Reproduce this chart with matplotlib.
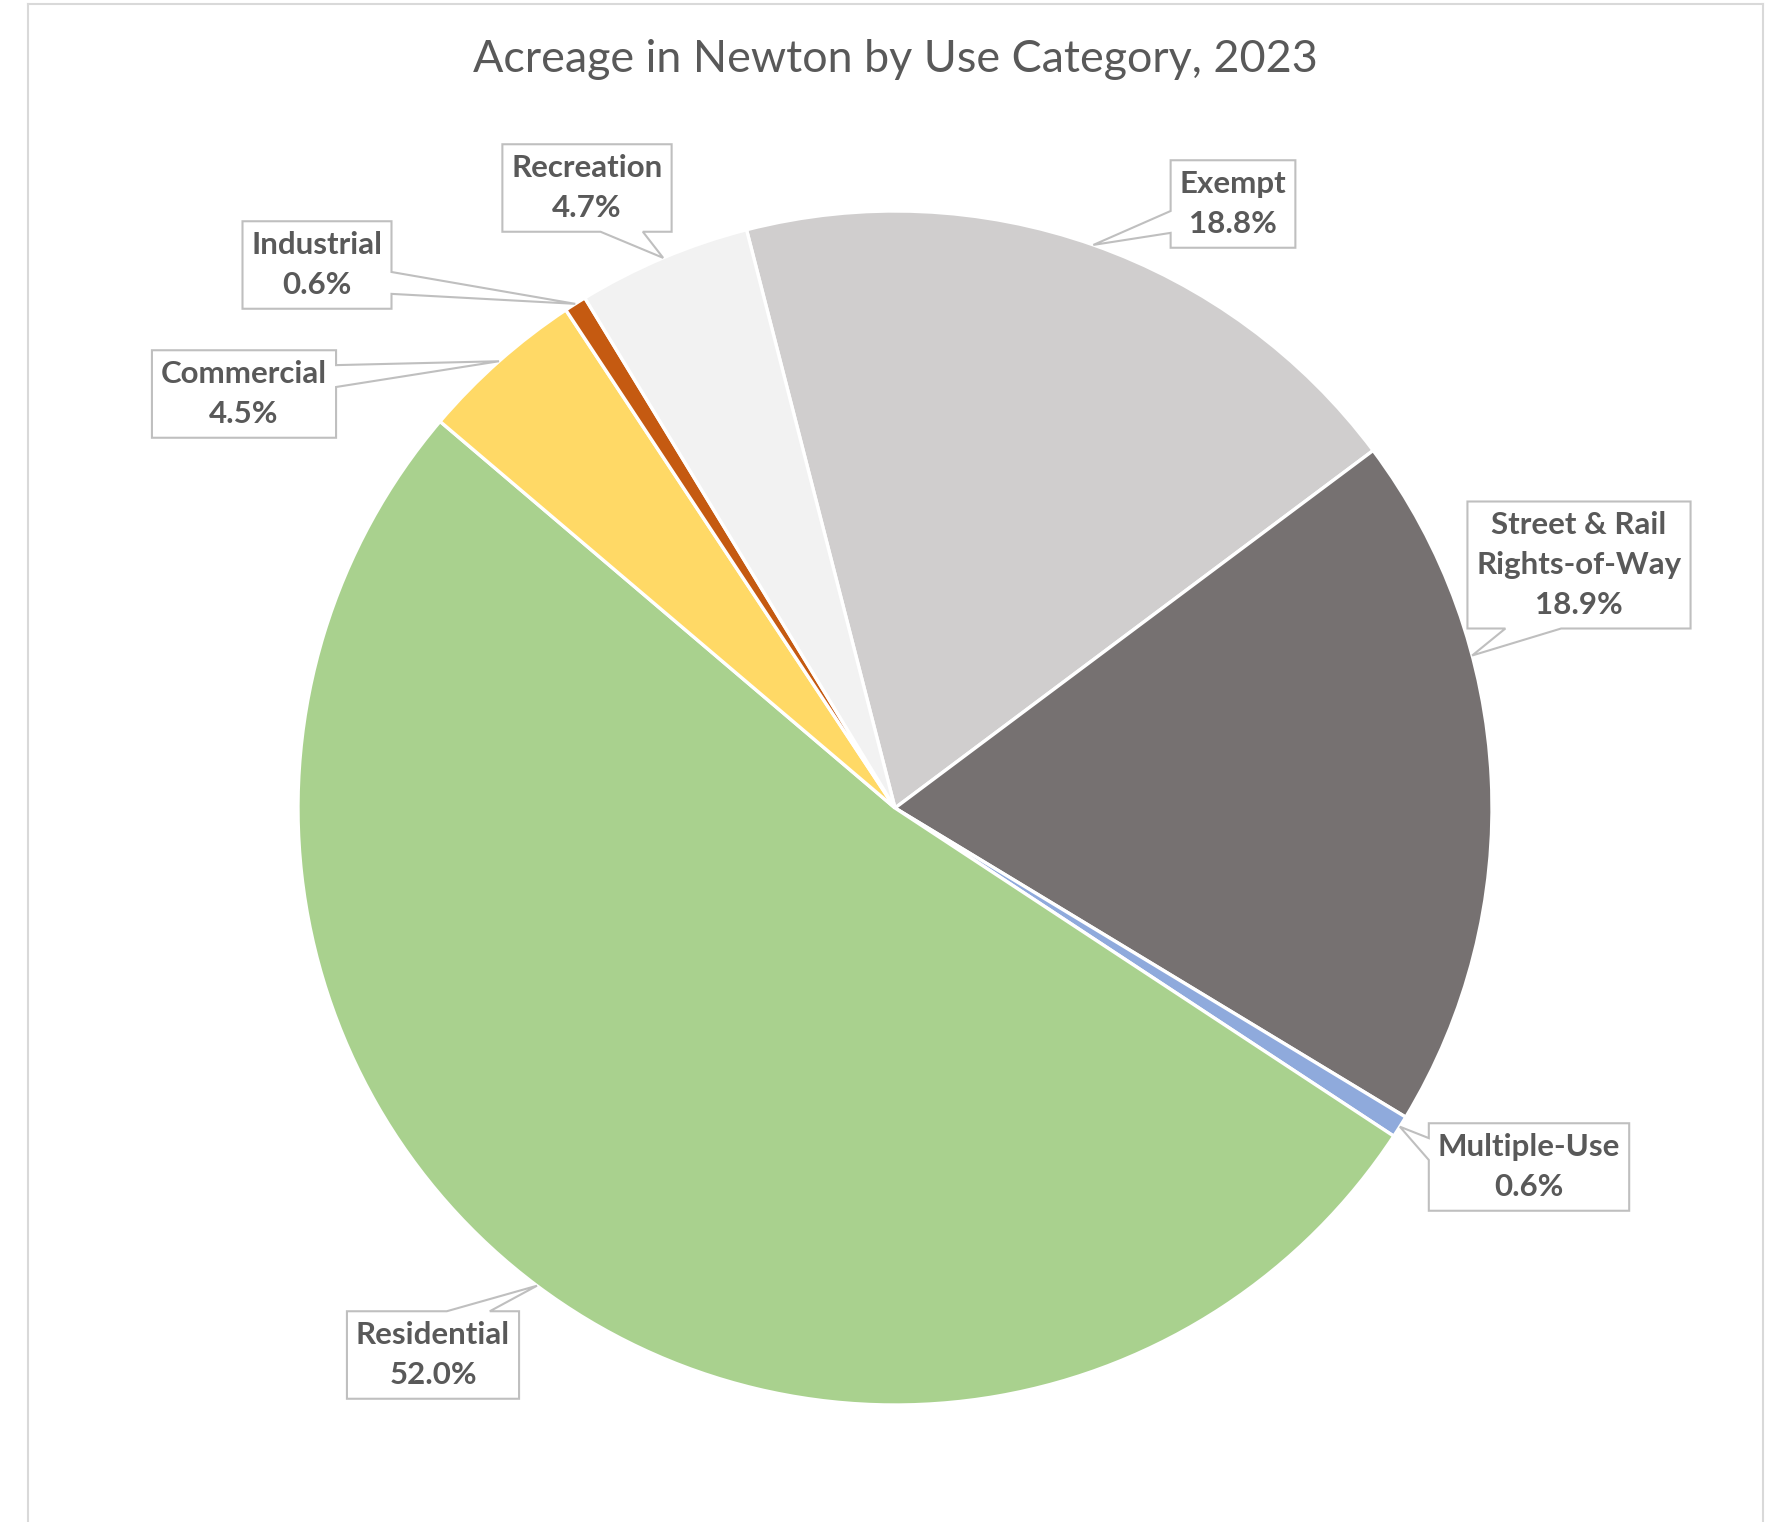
import numpy as np
import matplotlib

matplotlib.use("Agg")
import matplotlib.pyplot as plt
from matplotlib.patches import Polygon
from matplotlib.lines import Line2D
from matplotlib.transforms import IdentityTransform

# data, clockwise from the top-left edge of "Exempt"
categories = ["Exempt", "Street & Rail\nRights-of-Way", "Multiple-Use",
              "Residential", "Commercial", "Industrial", "Recreation"]
shares = [18.8, 18.9, 0.6, 52.0, 4.5, 0.6, 4.7]
colours = ["#D0CECE", "#767171", "#8FAADC", "#A9D18E",
           "#FFD966", "#C55A11", "#F2F2F2"]
title = "Acreage in Newton by Use Category, 2023"

W, H = 1775, 1522
CX, CY, R = 895, 808, 597  # pie centre and radius in px (from top-left)
TEXT = "#595959"
LINE = "#BFBFBF"
FONT = ["Lato", "DejaVu Sans"]

# label box centres, px from top-left
label_xy = [(1233, 204), (1579, 565), (1529, 1167), (433, 1355),
            (244, 394), (317, 265), (587, 188)]
tip_shift = [0, 12, 0, 0, 0, 0, 0]  # degrees, where Excel moved the leader

fig = plt.figure(figsize=(W / 100, H / 100), dpi=100)
ax = fig.add_axes([(CX - R) / W, (H - CY - R) / H, 2 * R / W, 2 * R / H])
wedges, _ = ax.pie(shares, colors=colours, startangle=104.4, counterclock=False,
                   radius=1, wedgeprops={"edgecolor": "white", "linewidth": 2.4})
ax.set_xlim(-1, 1)
ax.set_ylim(-1, 1)
ax.set_aspect("equal")
ax.axis("off")

fig.text(CX / W, 1 - 59 / H, title, ha="center", va="center",
         fontsize=32.3, color=TEXT, family=FONT)

# chart-area frame (bottom edge is cut off in the source)
for xs, ys in [([28, 28], [0, H - 4]), ([28, 1763], [H - 4, H - 4]),
               ([1763, 1763], [0, H - 4])]:
    fig.add_artist(Line2D(np.array(xs) / W, np.array(ys) / H,
                          color="#D9D9D9", lw=1.5))

texts = []
for name, val, (lx, ly) in zip(categories, shares, label_xy):
    t = ax.text((lx - CX) / R, (CY - ly) / R, f"{name}\n{val:.1f}%",
                ha="center", va="center", multialignment="center",
                fontsize=22.5, fontweight="bold", color=TEXT, family=FONT,
                linespacing=1.5, zorder=6)
    texts.append(t)

fig.canvas.draw()
rend = fig.canvas.get_renderer()

for w, t, shift in zip(wedges, texts, tip_shift):
    ang = np.deg2rad((w.theta1 + w.theta2) / 2 + shift)
    tip = ax.transData.transform((np.cos(ang), np.sin(ang)))
    bb = t.get_window_extent(rend)
    x0, x1 = bb.x0 - 9, bb.x1 + 9
    y0, y1 = bb.y0 - 10, bb.y1 + 10
    cx, cy = (x0 + x1) / 2, (y0 + y1) / 2
    dx = (tip[0] - cx) / ((x1 - x0) / 2)
    dy = (tip[1] - cy) / ((y1 - y0) / 2)
    if abs(dx) >= abs(dy):
        edge = "right" if dx > 0 else "left"
        fr = (0.17, 0.42) if tip[1] > cy else (0.58, 0.83)  # from top
        ya, yb = y1 - fr[0] * (y1 - y0), y1 - fr[1] * (y1 - y0)
        if edge == "right":
            pts = [(x0, y1), (x1, y1), (x1, ya), tuple(tip), (x1, yb),
                   (x1, y0), (x0, y0)]
        else:
            pts = [(x0, y1), (x1, y1), (x1, y0), (x0, y0), (x0, yb),
                   tuple(tip), (x0, ya)]
    else:
        edge = "top" if dy > 0 else "bottom"
        fr = (0.58, 0.83) if tip[0] > cx else (0.17, 0.42)  # from left
        xa, xb = x0 + fr[0] * (x1 - x0), x0 + fr[1] * (x1 - x0)
        if edge == "top":
            pts = [(x0, y1), (xa, y1), tuple(tip), (xb, y1), (x1, y1),
                   (x1, y0), (x0, y0)]
        else:
            pts = [(x0, y1), (x1, y1), (x1, y0), (xb, y0), tuple(tip),
                   (xa, y0), (x0, y0)]
    ax.add_patch(Polygon(pts, closed=True, facecolor="white", edgecolor=LINE,
                         lw=1.5, transform=IdentityTransform(), zorder=4,
                         clip_on=False))

fig.savefig("out.png", dpi=100, facecolor="white")
